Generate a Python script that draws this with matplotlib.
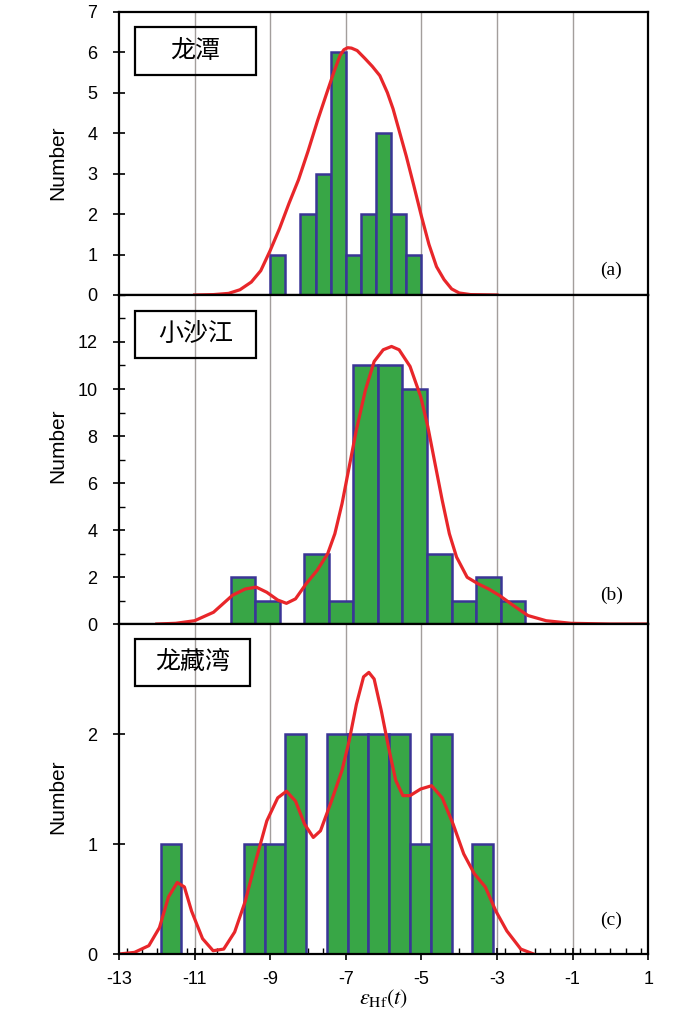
import numpy as np
import matplotlib.pyplot as plt
from matplotlib.patches import Rectangle
from matplotlib.ticker import MultipleLocator

plt.rcParams['font.family'] = ['Liberation Sans', 'Noto Sans CJK SC', 'DejaVu Sans']
plt.rcParams['mathtext.fontset'] = 'stix'
plt.rcParams['axes.unicode_minus'] = False

names = ['龙潭', '小沙江', '龙藏湾']
tags = ['(a)', '(b)', '(c)']

# histogram bin edges and counts
a_edges = [-9.0, -8.6, -8.2, -7.8, -7.4, -7.0, -6.6, -6.2, -5.8, -5.4, -5.0]
a_counts = [1, 0, 2, 3, 6, 1, 2, 4, 2, 1]

b_edges = [-10.05, -9.4, -8.75, -8.1, -7.45, -6.8, -6.15, -5.5, -4.85, -4.2, -3.55, -2.9, -2.25]
b_counts = [2, 1, 0, 3, 1, 11, 11, 10, 3, 1, 2, 1]

c_edges = [-11.9, -11.35, -10.8, -10.25, -9.7, -9.15, -8.6, -8.05, -7.5, -6.95, -6.4,
           -5.85, -5.3, -4.75, -4.2, -3.65, -3.1]
c_counts = [1, 0, 0, 0, 1, 1, 2, 0, 2, 2, 2, 2, 1, 2, 0, 1]

# probability density curves
a_cx = [-11.0, -10.5, -10.1, -9.8, -9.5, -9.25, -9.0, -8.75, -8.5, -8.25, -8.0, -7.75,
        -7.5, -7.3, -7.15, -7.05, -6.95, -6.85, -6.7, -6.5, -6.3, -6.1, -5.9, -5.75, -5.6,
        -5.4, -5.2, -5.0, -4.8, -4.6, -4.4, -4.2, -4.0, -3.7, -3.0]
a_cy = [0.0, 0.01, 0.04, 0.13, 0.32, 0.6, 1.1, 1.65, 2.27, 2.85, 3.55, 4.3,
        5.0, 5.55, 5.92, 6.06, 6.11, 6.1, 6.04, 5.85, 5.65, 5.42, 5.0, 4.6, 4.1,
        3.43, 2.7, 1.95, 1.25, 0.7, 0.38, 0.15, 0.05, 0.01, 0.0]

b_cx = [-12.0, -11.5, -11.0, -10.5, -10.0, -9.66, -9.37, -9.09, -8.8, -8.57, -8.33, -8.05,
        -7.76, -7.48, -7.29, -7.1, -6.91, -6.72, -6.48, -6.25, -6.01, -5.79, -5.59, -5.3,
        -5.02, -4.83, -4.64, -4.45, -4.26, -4.07, -3.79, -3.5, -3.22, -2.93, -2.56, -2.18,
        -1.7, -1.04, 0.0, 1.0]
b_cy = [0.0, 0.03, 0.14, 0.5, 1.22, 1.49, 1.57, 1.35, 1.02, 0.88, 1.07, 1.71,
        2.28, 2.99, 3.84, 5.12, 6.69, 8.26, 9.96, 11.17, 11.67, 11.81, 11.67, 10.96,
        9.68, 8.4, 6.83, 5.27, 3.84, 2.85, 1.99, 1.71, 1.49, 1.21, 0.78, 0.36,
        0.14, 0.03, 0.0, 0.0]

c_cx = [-13.0, -12.59, -12.21, -11.93, -11.69, -11.46, -11.27, -11.08, -10.79, -10.51,
        -10.23, -9.94, -9.66, -9.38, -9.09, -8.8, -8.57, -8.33, -8.09, -7.86, -7.67,
        -7.38, -7.1, -6.91, -6.72, -6.53, -6.39, -6.25, -6.06, -5.87, -5.68, -5.49,
        -5.3, -5.02, -4.73, -4.45, -4.16, -3.88, -3.6, -3.31, -3.03, -2.74, -2.37, -2.03]
c_cy = [0.0, 0.015, 0.076, 0.24, 0.52, 0.65, 0.61, 0.39, 0.14, 0.03,
        0.045, 0.2, 0.48, 0.85, 1.21, 1.42, 1.48, 1.39, 1.18, 1.06, 1.12,
        1.39, 1.67, 1.94, 2.27, 2.52, 2.56, 2.5, 2.21, 1.88, 1.58, 1.44,
        1.44, 1.5, 1.53, 1.42, 1.18, 0.91, 0.73, 0.61, 0.39, 0.21, 0.045, 0.0]

panels = [
    (a_edges, a_counts, a_cx, a_cy, 7),
    (b_edges, b_counts, b_cx, b_cy, 14),
    (c_edges, c_counts, c_cx, c_cy, 3),
]

fig = plt.figure(figsize=(7, 10.16), dpi=100)
gs = fig.add_gridspec(3, 1, height_ratios=[283.3, 329, 330], hspace=0,
                      left=0.170, right=0.926, top=0.9885, bottom=0.061)

box_pos = [(0.030, 0.777, 0.228, 0.168),
           (0.030, 0.809, 0.228, 0.143),
           (0.030, 0.813, 0.217, 0.142)]
ylab_y = [0.466, 0.541, 0.476]
tag_y = [0.088, 0.088, 0.103]

for i, (edges, counts, cx, cy, ymax) in enumerate(panels):
    ax = fig.add_subplot(gs[i])
    ax.set_xlim(-13, 1)
    ax.set_ylim(0, ymax)

    for g in [-11, -9, -7, -5, -3, -1]:
        ax.axvline(g, color='#a39e9c', lw=1.0, zorder=0)

    for k in range(len(counts)):
        if counts[k] == 0:
            continue
        ax.bar(edges[k], counts[k], width=edges[k + 1] - edges[k], align='edge',
               color='#38a646', edgecolor='#3a3596', linewidth=1.8, zorder=2)

    ax.plot(cx, cy, color='#e8262a', lw=2.3, zorder=3, clip_on=True)

    for s in ax.spines.values():
        s.set_linewidth(1.6)
        s.set_zorder(4)

    x0, y0, w, h = box_pos[i]
    ax.add_patch(Rectangle((x0, y0), w, h, transform=ax.transAxes, fill=False,
                           edgecolor='black', linewidth=1.6, zorder=5))
    ax.text(x0 + w / 2, y0 + h / 2, names[i], transform=ax.transAxes,
            ha='center', va='center', fontsize=18,
            family=['Noto Sans CJK SC', 'DejaVu Sans'], zorder=6)
    ax.text(0.93, tag_y[i], tags[i], transform=ax.transAxes, ha='center',
            va='center', fontsize=14, family='Liberation Serif')

    ax.set_ylabel('Number', fontsize=15)
    ax.yaxis.set_label_coords(-0.098, ylab_y[i])

    if i == 0:
        ax.set_yticks(range(0, 8))
    elif i == 1:
        ax.set_yticks(range(0, 13, 2))
        ax.yaxis.set_minor_locator(MultipleLocator(1))
    else:
        ax.set_yticks([0, 1, 2])
    ax.tick_params(axis='y', which='major', direction='inout', length=9, width=1.2,
                   labelsize=13, pad=11)
    ax.tick_params(axis='y', which='minor', direction='in', length=4, width=1.0)

    if i < 2:
        ax.tick_params(axis='x', which='both', bottom=False, labelbottom=False)
    else:
        ax.set_xticks(range(-13, 2, 2))
        ax.xaxis.set_minor_locator(MultipleLocator(0.4))
        ax.tick_params(axis='x', which='major', direction='inout', length=9, width=1.2,
                       labelsize=13, pad=8)
        ax.tick_params(axis='x', which='minor', direction='in', length=4, width=1.0)
        ax.set_xlabel(r'$\varepsilon_{\rm Hf}(t)$', fontsize=16, labelpad=-1)

fig.savefig('out.png', dpi=100)
